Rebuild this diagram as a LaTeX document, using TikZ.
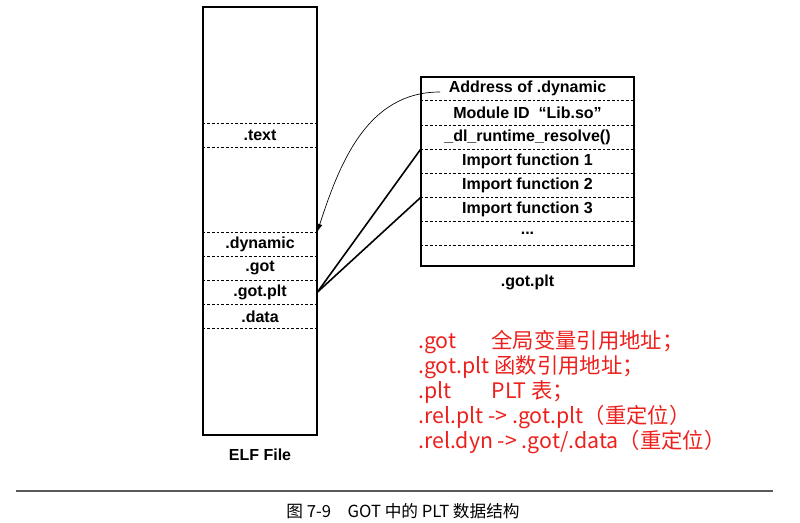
\documentclass[tikz,border=0pt]{standalone}
\usepackage{fontspec}
\setmainfont{Liberation Sans}
\newfontfamily\cjk{Noto Sans CJK SC}
\usepackage{xcolor}
\usepackage{tikz}
\usetikzlibrary{positioning,arrows.meta}
\definecolor{notered}{RGB}{236,32,28}

\begin{document}
\begin{tikzpicture}[x=0.75pt,y=-0.75pt,node distance=0pt,
  frame/.style={draw,line width=0.9pt,inner sep=0pt},
  elfrow/.style={minimum width=85.5pt,minimum height=17.7pt,inner sep=0pt,font=\bfseries\fontsize{12pt}{14pt}\selectfont},
  gotrow/.style={elfrow,minimum width=159.75pt},
  sep/.style={dash pattern=on 2pt off 1.5pt,line width=0.6pt},
  note/.style={anchor=west,align=left,inner sep=0pt,text=notered,font=\cjk\fontsize{16pt}{18.75pt}\selectfont},
  caption/.style={inner sep=0pt,text=black,font=\cjk\fontsize{12.5pt}{14pt}\selectfont}]
\useasboundingbox (0,0) rectangle (800,523);

\node[frame,minimum width=85.5pt,minimum height=321pt] (elf) at (260,221) {};
\node[elfrow] (text) at (260,135.5) {.text};
\node[elfrow] (dynamic) at (260,244) {.dynamic};
\node[elfrow,below=of dynamic] (got) {.got};
\node[elfrow,below=of got] (gotplt) {.got.plt};
\node[elfrow,below=of gotplt] (data) {.data};
\node[elfrow,minimum height=0pt,inner sep=3.33pt,below=6.5pt of elf] (elflabel) {ELF File};

\foreach \r in {text,dynamic,got,gotplt,data}
  \draw[sep] (\r.north west) -- (\r.north east);
\draw[sep] (text.south west) -- (text.south east);
\draw[sep] (data.south west) -- (data.south east);

\node[frame,minimum width=159.75pt,minimum height=141.75pt] (plt) at (527.5,171.5) {};
\node[gotrow] (addr) at (527.5,88.8) {Address of .dynamic};
\node[gotrow,below=of addr] (modid) {Module ID\ \ “Lib.so”};
\node[gotrow,below=of modid] (resolve) {\_dl\_runtime\_resolve()};
\node[gotrow,below=of resolve] (imp1) {Import function 1};
\node[gotrow,below=of imp1] (imp2) {Import function 2};
\node[gotrow,below=of imp2] (imp3) {Import function 3};
\node[gotrow,below=of imp3] (more) {...};
\node[gotrow,below=of more] (blank) {};
\node[elfrow,minimum height=0pt,inner sep=3.33pt,below=3pt of plt] (pltlabel) {.got.plt};

\foreach \r in {addr,modid,resolve,imp1,imp2,imp3,more}
  \draw[sep] (\r.south west) -- (\r.south east);

\coordinate (dynsrc) at (440,92);
\draw[-{Latex[length=6pt,width=4pt]},line width=0.5pt] (dynsrc) to[out=180,in=72] (dynamic.north east);
\draw[line width=1.2pt] (gotplt.east) -- (imp1.north west);
\draw[line width=1.2pt] (gotplt.east) -- (imp3.north west);

\node[note] (notes) at (418,392) {\makebox[55pt][l]{.got}全局变量引用地址；\\
  .got.plt\ 函数引用地址；\\
  \makebox[55pt][l]{.plt}PLT 表；\\
  .rel.plt -> .got.plt（重定位）\\
  .rel.dyn -> .got/.data（重定位）};

\coordinate (ruleL) at (16,491);
\coordinate (ruleR) at (773,491);
\draw[black!65,line width=0.9pt] (ruleL) -- (ruleR);
\node[caption] (cap) at (403,511) {图 7-9\quad GOT 中的 PLT 数据结构};
\end{tikzpicture}
\end{document}
